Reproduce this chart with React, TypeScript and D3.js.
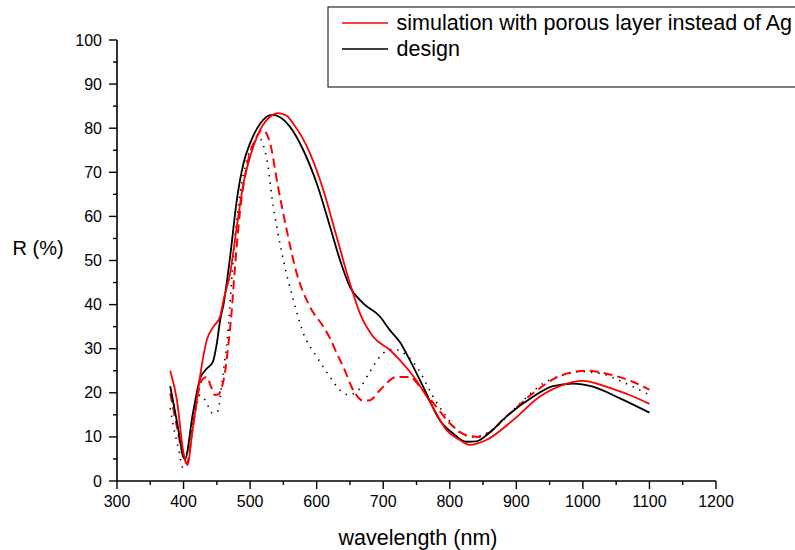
import React from "react";
import * as d3 from "d3";

// ---- data ----
const designX = [380, 390, 402, 414, 425, 435, 444, 450, 455, 460, 470, 480, 490, 500, 515, 533, 545, 560, 580, 600, 620, 635, 650, 670, 695, 710, 725, 740, 760, 785, 805, 825, 840, 860, 885, 925, 955, 985, 1015, 1055, 1100];
const designR = [21.5, 13.5, 4.9, 15.3, 23.3, 25.5, 27, 31.2, 36.5, 40, 50.9, 63.7, 72, 76.6, 81, 83, 82.5, 80.3, 75, 67.5, 57.7, 50.1, 44, 40.3, 37.3, 34.2, 31.5, 27.4, 21.4, 13.8, 10.8, 8.9, 9, 11, 14.6, 19.1, 21.5, 22.1, 21.4, 18.8, 15.5];

const simX = [380, 390, 400, 406, 413, 420, 427, 435, 445, 455, 460, 470, 480, 490, 500, 515, 530, 542, 555, 565, 590, 610, 630, 650, 665, 685, 710, 725, 745, 770, 795, 815, 830, 855, 895, 935, 970, 1000, 1035, 1070, 1100];
const simR = [25, 18.4, 6.3, 3.6, 11, 18.4, 25.9, 32, 35, 37.3, 41, 47.1, 57.7, 67.5, 73.5, 79.6, 82.6, 83.4, 82.8, 81, 74.3, 66, 55.4, 44.8, 38, 32.7, 29.7, 27.4, 23.8, 18, 11.6, 9.3, 8.2, 9.3, 13.8, 19.1, 21.8, 22.7, 21.4, 19.5, 17.5];

const dashX = [380, 390, 400, 405, 412, 420, 428, 435, 441, 447, 452, 457, 462, 467, 472, 477, 485, 495, 510, 519, 530, 542, 555, 570, 590, 610, 620, 630, 640, 655, 670, 680, 695, 720, 740, 755, 780, 800, 825, 845, 885, 925, 965, 1005, 1045, 1075, 1100];
const dashR = [19.9, 12.3, 5.2, 4, 10, 18.4, 23, 23.6, 21.5, 19.5, 19.6, 21, 24.4, 30.5, 38, 48, 61.4, 71.3, 78.1, 79.6, 76.6, 66.7, 56.9, 47.1, 39.5, 35, 32.4, 29, 25.9, 20.6, 18.2, 18.3, 20.6, 23.6, 23.6, 21.4, 16.8, 13.1, 10.4, 10, 14.6, 19.9, 23.8, 25, 24, 22.5, 20.7];

const dotX = [380, 387, 394, 398, 406, 415, 425, 435, 442, 450, 454, 457, 462, 467, 470, 477, 485, 495, 505, 514, 522, 527, 532, 540, 550, 565, 580, 600, 620, 635, 648, 662, 680, 700, 715, 728, 752, 775, 793, 815, 835, 860, 900, 940, 970, 995, 1025, 1065, 1100];
const dotR = [16.5, 10.8, 6.3, 3.2, 7, 13.8, 19.5, 17.6, 15.5, 15.5, 17.6, 21.4, 27.4, 34.2, 40.7, 54.6, 65.2, 72.8, 76.6, 77.7, 75, 71.3, 65.2, 57.7, 50.1, 41, 33.5, 28.2, 23.6, 20.6, 19.5, 20.5, 24.8, 29, 29.9, 29.3, 25.5, 19.1, 15, 11, 10, 11.2, 16.8, 22.1, 24, 24.8, 24.4, 22.1, 19.5];

const xTicks = [300, 400, 500, 600, 700, 800, 900, 1000, 1100, 1200];
const yTicks = [0, 10, 20, 30, 40, 50, 60, 70, 80, 90, 100];
const legendLabels = ["simulation with porous layer instead of Ag", "design"];

const FONT = "'Liberation Sans', Arial, Helvetica, sans-serif";

export default function App() {
  const W = 795, H = 550;
  const x = d3.scaleLinear().domain([300, 1200]).range([117, 716]);
  const y = d3.scaleLinear().domain([0, 100]).range([481, 40]);

  const mk = (xs: number[], rs: number[]) =>
    d3.line<number>()
      .x((_, i) => x(xs[i]))
      .y((d) => y(d))
      .curve(d3.curveMonotoneX)(rs) || "";

  const xMinor = d3.range(350, 1200, 100);
  const yMinor = d3.range(5, 100, 10);

  return (
    <svg width={W} height={H} style={{ position: "absolute", left: 0, top: 0, background: "#fff" }} fontFamily={FONT}>
      <rect x={0} y={0} width={W} height={H} fill="#fff" />
      {/* curves */}
      <path d={mk(dotX, dotR)} fill="none" stroke="#000" strokeWidth={1.6} strokeDasharray="1.4,6" />
      <path d={mk(dashX, dashR)} fill="none" stroke="#ff0000" strokeWidth={2} strokeDasharray="9,5" />
      <path d={mk(designX, designR)} fill="none" stroke="#000" strokeWidth={1.8} />
      <path d={mk(simX, simR)} fill="none" stroke="#ff0000" strokeWidth={1.8} />

      {/* axes */}
      <line x1={x(300)} x2={x(300)} y1={y(100)} y2={y(0)} stroke="#000" strokeWidth={1.6} />
      <line x1={x(300)} x2={x(1200)} y1={y(0)} y2={y(0)} stroke="#000" strokeWidth={1.6} />
      {xTicks.map((t) => (
        <g key={"xt" + t}>
          <line x1={x(t)} x2={x(t)} y1={y(0)} y2={y(0) + 8} stroke="#000" strokeWidth={1.4} />
          <text x={x(t)} y={507} fontSize={16} textAnchor="middle" fill="#000">{t}</text>
        </g>
      ))}
      {xMinor.map((t) => (
        <line key={"xm" + t} x1={x(t)} x2={x(t)} y1={y(0)} y2={y(0) + 4} stroke="#000" strokeWidth={1.4} />
      ))}
      {yTicks.map((t) => (
        <g key={"yt" + t}>
          <line x1={x(300) - 8} x2={x(300)} y1={y(t)} y2={y(t)} stroke="#000" strokeWidth={1.4} />
          <text x={102} y={y(t) + 5.5} fontSize={16} textAnchor="end" fill="#000">{t}</text>
        </g>
      ))}
      {yMinor.map((t) => (
        <line key={"ym" + t} x1={x(300) - 4} x2={x(300)} y1={y(t)} y2={y(t)} stroke="#000" strokeWidth={1.4} />
      ))}

      {/* axis titles */}
      <text x={418} y={545} fontSize={21.5} textAnchor="middle" fill="#000">wavelength (nm)</text>
      <text x={12.5} y={255} fontSize={20} fill="#000">R (%)</text>

      {/* legend */}
      <rect x={328} y={7} width={500} height={80} fill="#fff" stroke="#000" strokeWidth={1} />
      <line x1={342} x2={388} y1={23} y2={23} stroke="#ff0000" strokeWidth={1.6} />
      <text x={396.5} y={30} fontSize={21.5} fill="#000">{legendLabels[0]}</text>
      <line x1={342} x2={388} y1={49} y2={49} stroke="#000" strokeWidth={1.6} />
      <text x={396.5} y={56} fontSize={21.5} fill="#000">{legendLabels[1]}</text>
    </svg>
  );
}
